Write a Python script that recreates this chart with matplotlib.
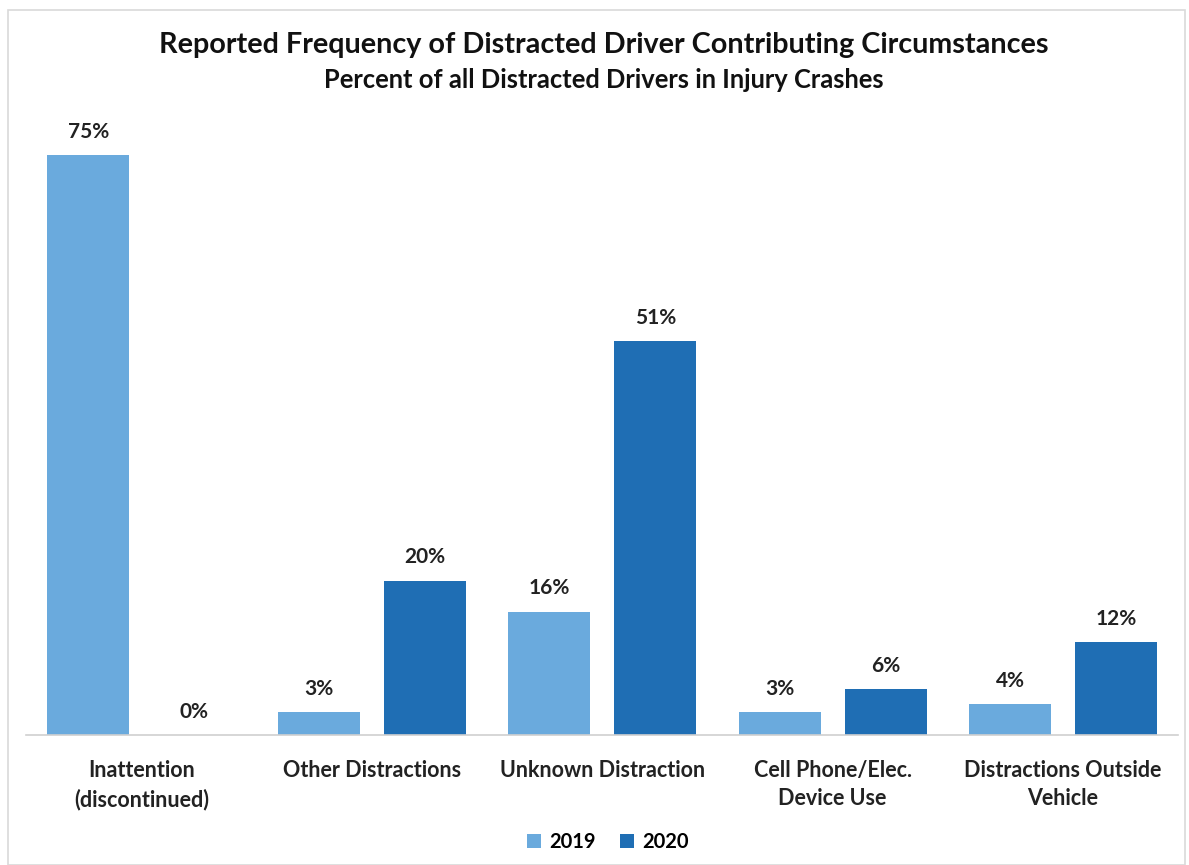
import numpy as np
import matplotlib
matplotlib.use("Agg")
import matplotlib.pyplot as plt
from matplotlib.patches import Rectangle

plt.rcParams['font.family'] = ['Lato', 'DejaVu Sans']

categories = ['Inattention\n(discontinued)', 'Other Distractions', 'Unknown Distraction',
              'Cell Phone/Elec.\nDevice Use', 'Distractions Outside\nVehicle']
years = ['2019', '2020']
vals_2019 = [75, 3, 16, 3, 4]
vals_2020 = [0, 20, 51, 6, 12]
colors = ['#6AAADD', '#1F6EB4']

fig = plt.figure(figsize=(11.89, 8.65), dpi=100)
ax = fig.add_axes([0.022, 0.150, 0.969, 0.715])

x = np.arange(len(categories))
w = 0.356
off = 0.23
for vals, c, o, lab in zip([vals_2019, vals_2020], colors, [-off, off], years):
    bars = ax.bar(x + o, vals, width=w, color=c, label=lab)
    for b, v in zip(bars, vals):
        ax.text(b.get_x() + b.get_width() / 2, v + 1.7, f'{v}%', ha='center', va='bottom',
                fontsize=15, fontweight='bold', color='#222222')

ax.set_xlim(-0.5, 4.5)
ax.set_ylim(0, 80)
ax.set_yticks([])
ax.set_xticks(x)
ax.set_xticklabels(categories, fontsize=15.5, fontweight='bold', color='#222222', linespacing=1.4)
ax.tick_params(axis='x', length=0, pad=18)
for s in ['top', 'right', 'left']:
    ax.spines[s].set_visible(False)
ax.spines['bottom'].set_color('#D0D0D0')
ax.spines['bottom'].set_linewidth(1.2)

fig.text(0.508, 0.948, 'Reported Frequency of Distracted Driver Contributing Circumstances',
         ha='center', va='center', fontsize=20.7, fontweight='bold', color='#111111')
fig.text(0.508, 0.907, 'Percent of all Distracted Drivers in Injury Crashes',
         ha='center', va='center', fontsize=18.4, fontweight='bold', color='#111111')

fig.legend(loc='center', bbox_to_anchor=(0.511, 0.027), ncol=2, frameon=False,
           prop={'weight': 'bold', 'size': 14.5}, handlelength=0.7, handleheight=0.7,
           handletextpad=0.4, columnspacing=1.2)

fig.patches.append(Rectangle((0.007, 0.0), 0.99, 0.988, transform=fig.transFigure,
                             fill=False, edgecolor='#D9D9D9', linewidth=1.2))

fig.savefig('out.png', dpi=100)
